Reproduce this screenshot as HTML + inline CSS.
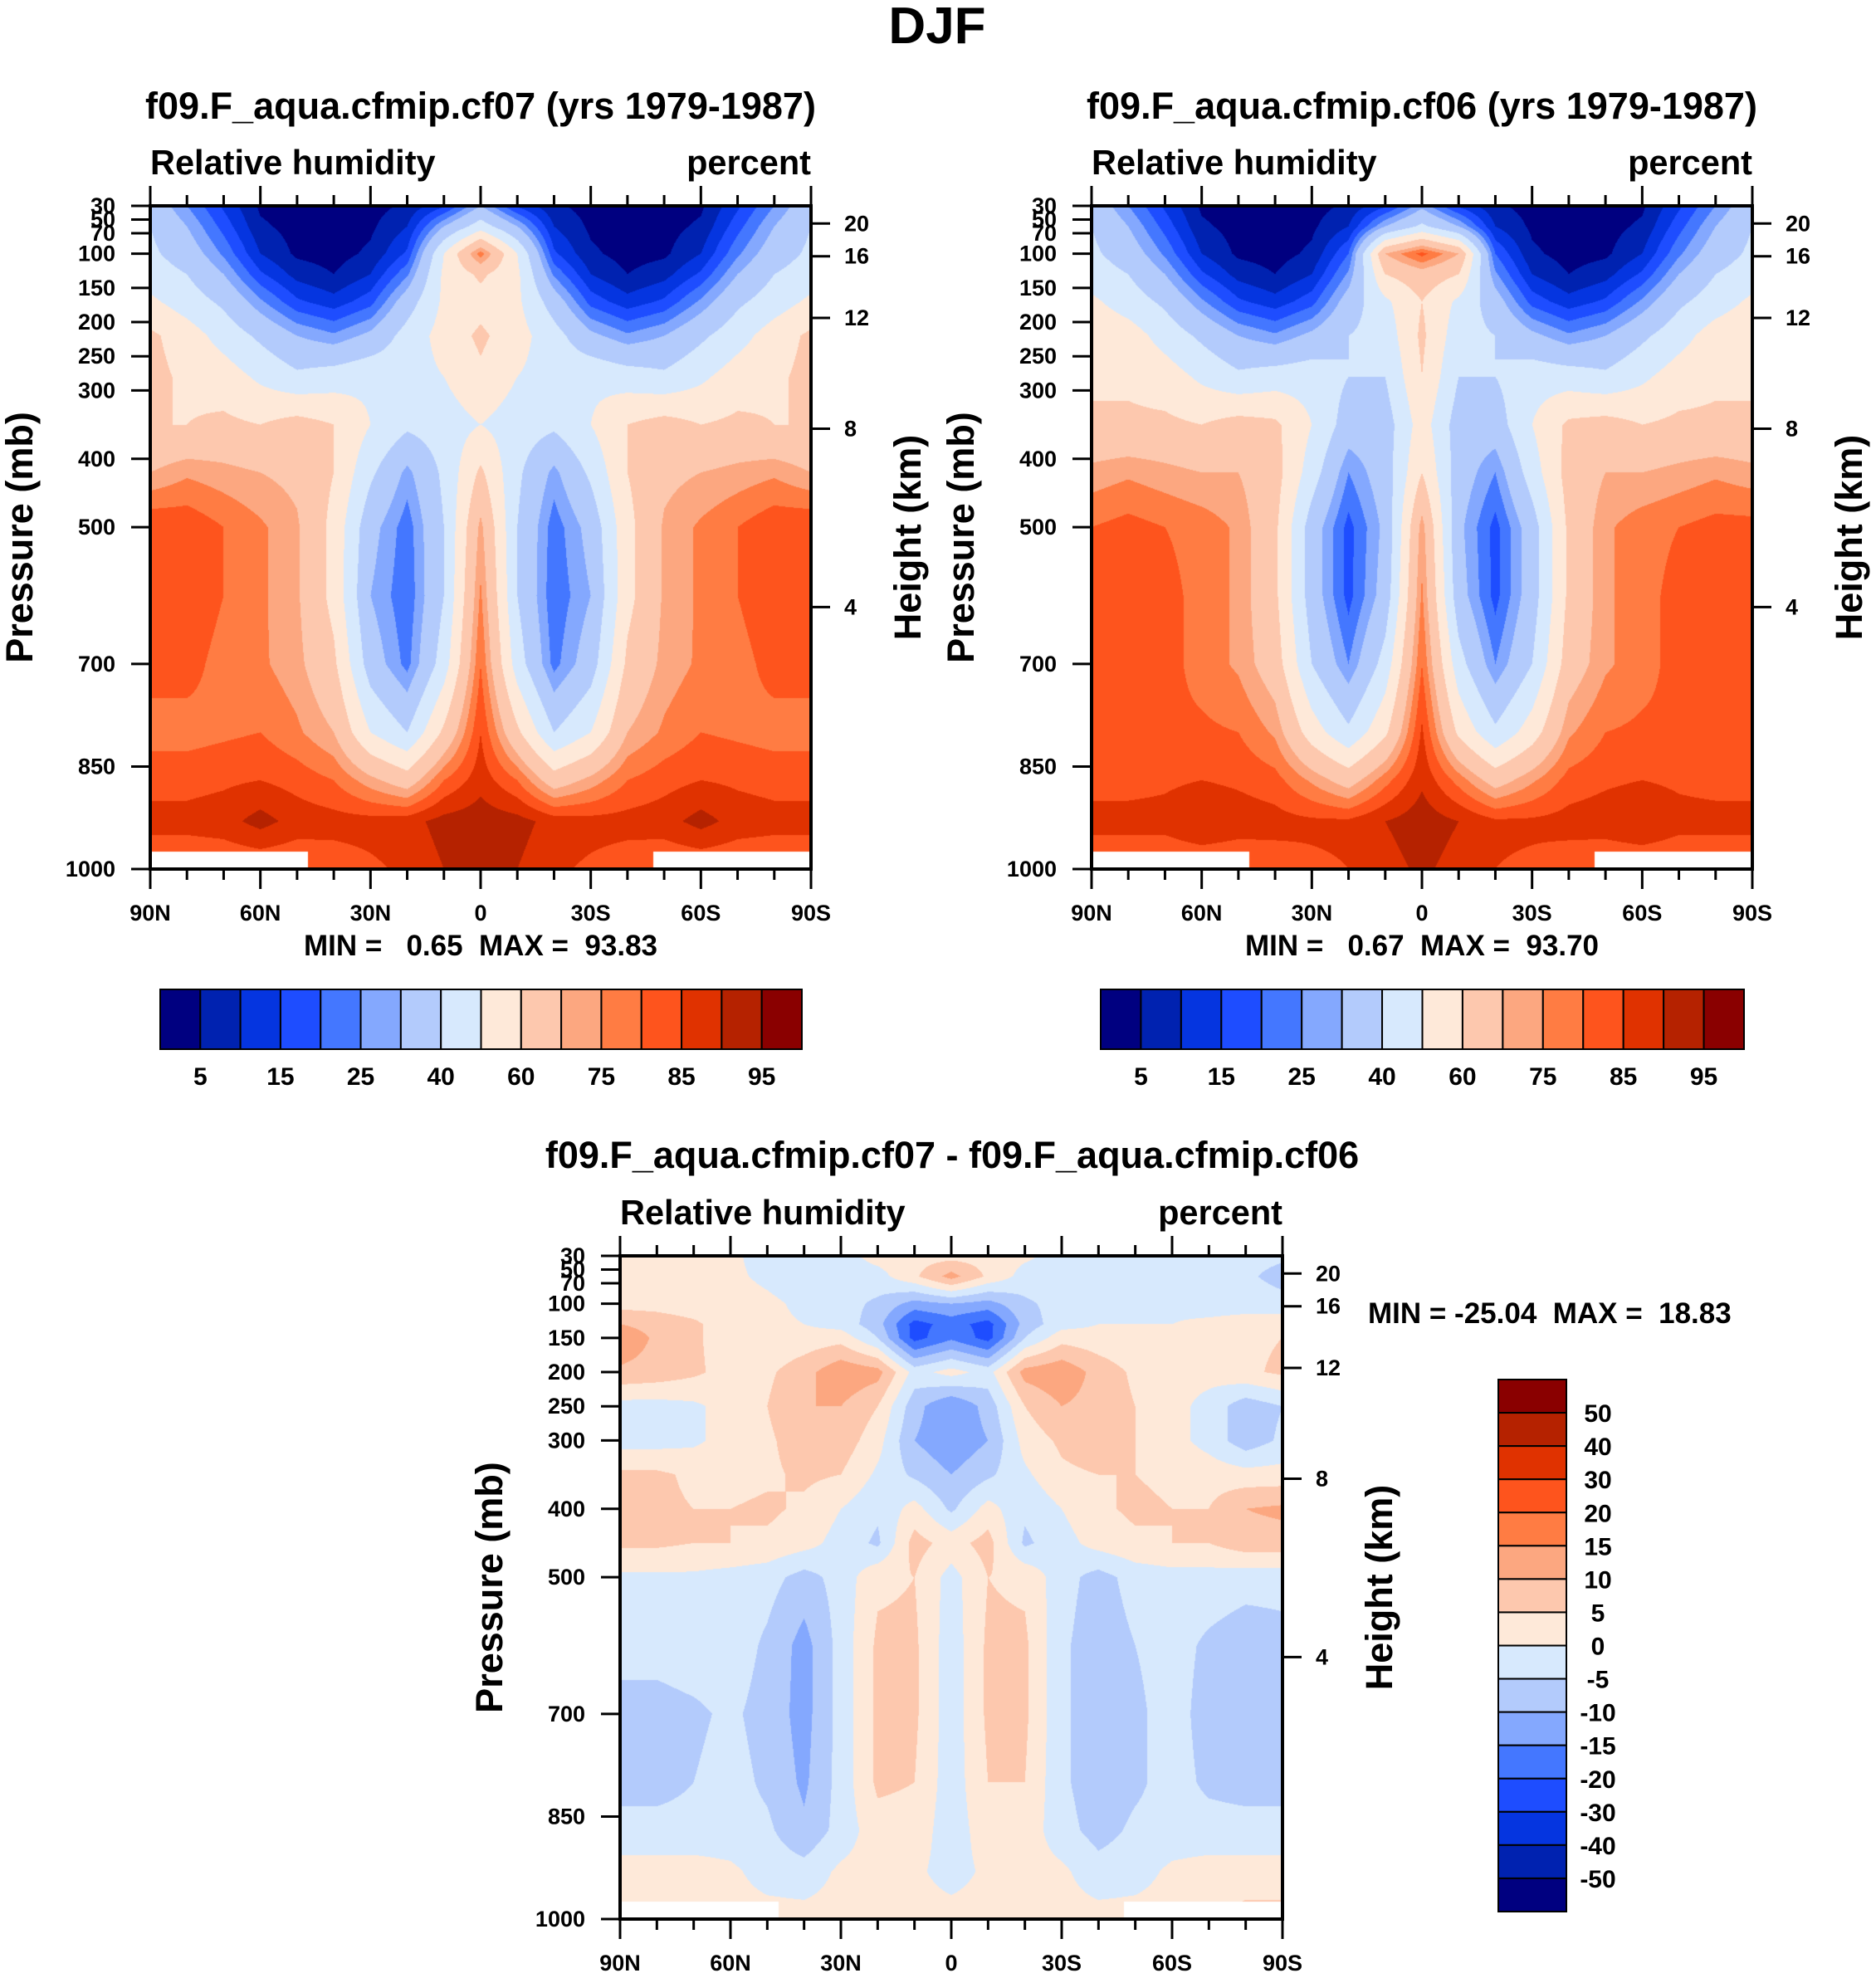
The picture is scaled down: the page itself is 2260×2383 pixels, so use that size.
<!DOCTYPE html>
<html><head><meta charset="utf-8">
<style>
html,body{margin:0;padding:0;background:#fff;}
#root{position:relative;width:2260px;height:2383px;overflow:hidden;background:#fff;font-family:"Liberation Sans",Arial,sans-serif;}
canvas{position:absolute;}
svg{position:absolute;left:0;top:0;}
text{font-family:"Liberation Sans",Arial,sans-serif;font-weight:bold;fill:#000;white-space:pre;}
</style></head>
<body>
<div id="root">
<canvas id="c1"></canvas>
<canvas id="c2"></canvas>
<canvas id="c3"></canvas>
<svg id="ov" width="2260" height="2383"></svg>
</div>
<script>
// ---------- data ----------
const lats = [90,80,70,60,50,40,30,20,10,0,-10,-20,-30,-40,-50,-60,-70,-80,-90];
const levelsAB = [30,60,100,130,170,220,280,350,420,500,600,700,800,870,930,1000];
const fieldA = [
[36,25,14,4,2,2,3,6,14,30,14,6,3,2,2,4,14,25,36],
[40,30,18,6,3,2,4,10,30,45,30,10,4,2,3,6,18,30,40],
[42,35,24,10,4,3,6,16,50,78,50,16,6,3,4,10,24,35,42],
[45,40,30,16,8,5,10,24,52,62,52,24,10,5,8,16,30,40,45],
[52,45,38,26,16,12,18,35,52,56,52,35,18,12,16,26,38,45,52],
[62,55,46,38,30,26,32,44,54,62,54,44,32,26,30,38,46,55,62],
[63,58,55,48,42,45,48,46,50,58,50,46,48,45,42,48,55,58,63],
[60,60,62,60,64,60,50,42,45,50,45,42,50,60,64,60,62,60,60],
[70,74,72,70,68,60,42,28,42,62,42,28,42,60,68,70,72,74,70],
[85,84,80,76,71,57,33,22,40,72,40,22,33,57,71,76,80,84,85],
[85,84,80,76,71,57,30,21,40,76,40,21,30,57,71,76,80,84,85],
[82,82,78,76,72,62,35,23,45,80,45,23,35,62,72,76,78,82,82],
[78,78,79,80,76,70,50,40,62,85,62,40,50,70,76,80,79,78,78],
[83,83,84,85,83,80,72,65,80,88,80,65,72,80,83,85,84,83,83],
[87,87,88,92,88,87,87,88,92,93,92,88,87,87,88,92,88,87,87],
[80,80,80,80,80,82,84,86,90,91,90,86,84,82,80,80,80,80,80]];
const fieldB = [
[36,25,14,4,2,2,3,6,14,28,14,6,3,2,2,4,14,25,36],
[40,30,18,6,3,2,4,10,30,42,30,10,4,2,3,6,18,30,40],
[42,35,24,10,4,3,6,20,70,82,70,20,6,3,4,10,24,35,42],
[45,40,30,16,8,5,10,26,60,66,60,26,10,5,8,16,30,40,45],
[52,45,38,26,16,12,18,34,48,60,48,34,18,12,16,26,38,45,52],
[58,55,46,38,30,26,32,40,44,62,44,40,32,26,30,38,46,55,58],
[58,58,55,48,42,45,46,40,40,60,40,40,46,45,42,48,55,58,58],
[62,62,62,60,64,62,50,35,35,55,35,35,50,62,64,60,62,62,62],
[72,74,72,70,70,64,45,25,35,60,35,25,45,64,70,70,72,74,72],
[80,82,80,78,74,62,35,18,32,73,32,18,35,62,74,78,80,82,82],
[85,85,82,78,74,62,35,18,34,76,34,18,35,62,74,78,82,85,85],
[84,84,82,78,74,65,40,25,44,80,44,25,40,65,74,78,82,84,84],
[81,81,81,81,80,74,55,42,58,86,58,42,55,74,80,81,81,81,81],
[83,83,84,85,84,82,74,66,78,89,78,66,74,82,84,85,84,83,83],
[87,87,87,90,88,87,86,86,90,93,90,86,86,87,88,90,87,87,87],
[80,80,80,80,80,82,84,85,88,91,88,85,84,82,80,80,80,80,80]];
const levelsC = [30,60,100,130,150,200,250,300,350,400,450,500,600,700,800,870,930,1000];
const fieldC = [
[3,2,2,1,-2,-3,-2,2,3,3,3,1,-2,-2,-2,-2,-2,-3,-4],
[3,3,2,1,-1,-3,-3,-2,4,12,4,-2,-2,-2,-2,-2,-2,-4,-7],
[3,3,2,2,1,-1,-3,-6,-12,-10,-12,-6,-3,-2,-1,-1,-2,-2,-3],
[10,8,6,2,1,0,-2,-8,-22,-18,-22,-8,-2,0,0,0,1,2,3],
[14,9,6,2,1,2,3,-5,-22,-16,-22,-5,3,2,1,1,2,4,5],
[9,8,6,3,4,8,14,12,-2,2,-2,12,14,8,4,2,2,4,6],
[-2,-2,-1,2,5,10,10,5,-8,-15,-8,5,10,8,5,2,-2,-8,-5],
[-2,-2,-1,2,4,8,8,2,-10,-14,-10,2,6,8,5,2,-2,-8,-4],
[6,6,4,3,4,6,5,-1,-6,-10,-6,-1,4,5,5,4,3,2,2],
[7,6,5,5,6,4,0,-4,2,-6,2,-4,0,4,6,5,5,10,11],
[6,6,5,5,4,2,-2,-6,7,3,7,-6,-2,2,4,5,5,8,8],
[-1,-1,-1,-2,-3,-7,-3,4,5,-2,5,4,-3,-7,-3,-2,-2,-3,-3],
[-3,-3,-2,-2,-6,-12,-3,6,6,-3,6,6,-4,-8,-5,-3,-6,-8,-7],
[-7,-7,-6,-4,-7,-12,-3,6,6,-3,6,6,-4,-8,-6,-3,-7,-8,-8],
[-7,-7,-5,-3,-6,-11,-3,6,5,-3,5,5,-4,-8,-6,-3,-6,-7,-7],
[-3,-3,-3,-3,-4,-9,-3,3,3,-3,3,3,-3,-7,-4,-3,-3,-3,-3],
[2,2,2,1,-2,-3,1,2,1,-2,1,2,1,-3,-2,1,2,2,2],
[2,2,2,2,2,2,2,2,2,2,2,2,2,2,2,2,4,7,7]];
const thrAB = [5,10,15,20,25,30,40,50,60,70,75,80,85,90,95];
const thrC = [-50,-40,-30,-20,-15,-10,-5,0,5,10,15,20,30,40,50];
const labelsAB = ["5","15","25","40","60","75","85","95"];
const labelsC = ["50","40","30","20","15","10","5","0","-5","-10","-15","-20","-30","-40","-50"];
const pTicks = [30,50,70,100,150,200,250,300,400,500,700,850,1000];
const hTicks = [20,16,12,8,4];
const latTickLabels = ["90N","60N","30N","0","30S","60S","90S"];
// ---------- styling ----------
const palette = ["#000080","#0022b0","#0535e0","#1e4dff","#4477ff","#84a8fe","#b3cbfc","#d7e9fd","#fee9d9","#fdc8ae","#fca780","#ff7c43","#fe541d","#e03200","#b52200","#8a0000"];
const hFrac = [0.0266,0.076,0.169,0.336,0.605];
const NS='http://www.w3.org/2000/svg';
const ov=document.getElementById('ov');
function hex(c){return [parseInt(c.slice(1,3),16),parseInt(c.slice(3,5),16),parseInt(c.slice(5,7),16)];}
const palRGB=palette.map(hex);
function bin(v,thr){let i=0;while(i<thr.length&&v>=thr[i])i++;return i;}
function mk(tag,attrs,parent){const e=document.createElementNS(NS,tag);for(const k in attrs)e.setAttribute(k,attrs[k]);(parent||ov).appendChild(e);return e;}
function txt(x,y,s,size,anchor,name,rot){
  const t=mk('text',{x:x,y:y,'font-size':size,'text-anchor':anchor||'start'});
  t.setAttributeNS('http://www.w3.org/XML/1998/namespace','xml:space','preserve');
  if(rot)t.setAttribute('transform','rotate(-90 '+x+' '+y+')');
  
  
  t.textContent=s;return t;}
function line(x1,y1,x2,y2,w,name){const l=mk('line',{x1:x1,y1:y1,x2:x2,y2:y2,stroke:'#000','stroke-width':w||3});
  
  
  return l;}

function drawField(id,F,levels,field,thr){
  const cv=document.getElementById(id);cv.width=F.w;cv.height=F.h;
  cv.style.left=F.x+'px';cv.style.top=F.y+'px';
  const ctx=cv.getContext('2d');const img=ctx.createImageData(F.w,F.h);const d=img.data;
  for(let j=0;j<F.h;j++){
    const p=30+(j+0.5)/F.h*970;
    let k=0;while(k<levels.length-2&&p>levels[k+1])k++;
    const ty=Math.min(1,Math.max(0,(p-levels[k])/(levels[k+1]-levels[k])));
    for(let i=0;i<F.w;i++){
      const lat=90-(i+0.5)/F.w*180;
      const fx=(90-lat)/10;let a=Math.min(17,Math.floor(fx));const tx=fx-a;
      const v=(field[k][a]*(1-tx)+field[k][a+1]*tx)*(1-ty)+(field[k+1][a]*(1-tx)+field[k+1][a+1]*tx)*ty;
      let c=palRGB[bin(v,thr)];
      if(p>974&&Math.abs(lat)>47)c=[255,255,255];
      const o=(j*F.w+i)*4;d[o]=c[0];d[o+1]=c[1];d[o+2]=c[2];d[o+3]=255;
    }
  }
  ctx.putImageData(img,0,0);
}
function axes(F,pref){
  const r=mk('rect',{x:F.x,y:F.y,width:F.w,height:F.h,fill:'none',stroke:'#000','stroke-width':4});
  
  
  for(let g=0;g<=18;g++){
    const x=F.x+g/18*F.w;const L=(g%3==0)?24:13;
    line(x,F.y,x,F.y-L,3,pref+'-top-tick');
    line(x,F.y+F.h,x,F.y+F.h+L,3,pref+'-bottom-tick');
  }
  latTickLabels.forEach((s,i)=>txt(F.x+i/6*F.w,F.y+F.h+62,s,27,'middle',pref+'-lat-label'));
  pTicks.forEach(p=>{const y=F.y+(p-30)/970*F.h;line(F.x,y,F.x-23,y,3,pref+'-pressure-tick');
    txt(F.x-42,y+9,String(p),27,'end',pref+'-pressure-label');});
  hTicks.forEach((h,i)=>{const y=F.y+hFrac[i]*F.h;line(F.x+F.w,y,F.x+F.w+23,y,3,pref+'-height-tick');
    txt(F.x+F.w+40,y+9,String(h),27,'start',pref+'-height-label');});
  txt(F.x,F.y-38,'Relative humidity',41.5,'start',pref+'-variable-name');
  txt(F.x+F.w,F.y-38,'percent',41.5,'end',pref+'-units');
  txt(F.x-142,F.y+F.h/2,'Pressure (mb)',45,'middle',pref+'-y-axis-title',true);
  txt(F.x+F.w+132,F.y+F.h/2,'Height (km)',45,'middle',pref+'-right-axis-title',true);
}
function hbar(x,y,w,h,pref){
  const bw=w/16;
  for(let i=0;i<16;i++){const r=mk('rect',{x:x+i*bw,y:y,width:bw,height:h,fill:palette[i],stroke:'#000','stroke-width':2});
    
    }
  labelsAB.forEach((s,i)=>txt(x+(2*i+1)*bw,y+h+43,s,30,'middle',pref+'-colorbar-label'));
}
function vbar(x,y,w,h,pref){
  const bh=h/16;
  for(let i=0;i<16;i++){const r=mk('rect',{x:x,y:y+i*bh,width:w,height:bh,fill:palette[15-i],stroke:'#000','stroke-width':2});
    
    }
  labelsC.forEach((s,i)=>txt(x+w+38,y+(i+1)*bh+11,s,30,'middle',pref+'-colorbar-label'));
}
const F1={x:181,y:248,w:796,h:799},F2={x:1315,y:248,w:796,h:799},F3={x:747,y:1513,w:798,h:799};
drawField('c1',F1,levelsAB,fieldA,thrAB);
drawField('c2',F2,levelsAB,fieldB,thrAB);
drawField('c3',F3,levelsC,fieldC,thrC);
axes(F1,'cf07');axes(F2,'cf06');axes(F3,'diff');
txt(1129,52,'DJF',62,'middle','main-title');
txt(579,143,'f09.F_aqua.cfmip.cf07 (yrs 1979-1987)',45,'middle','cf07-title');
txt(1713,143,'f09.F_aqua.cfmip.cf06 (yrs 1979-1987)',45,'middle','cf06-title');
txt(579,1151,'MIN =   0.65  MAX =  93.83',35,'middle','cf07-min-max');
txt(1713,1151,'MIN =   0.67  MAX =  93.70',35,'middle','cf06-min-max');
hbar(193,1192,773,72,'cf07');hbar(1326,1192,775,72,'cf06');
txt(1147,1407,'f09.F_aqua.cfmip.cf07 - f09.F_aqua.cfmip.cf06',45,'middle','diff-title');
txt(1648,1594,'MIN = -25.04  MAX =  18.83',35,'start','diff-min-max');
vbar(1805,1662,82,641,'diff');
</script>
</body></html>
